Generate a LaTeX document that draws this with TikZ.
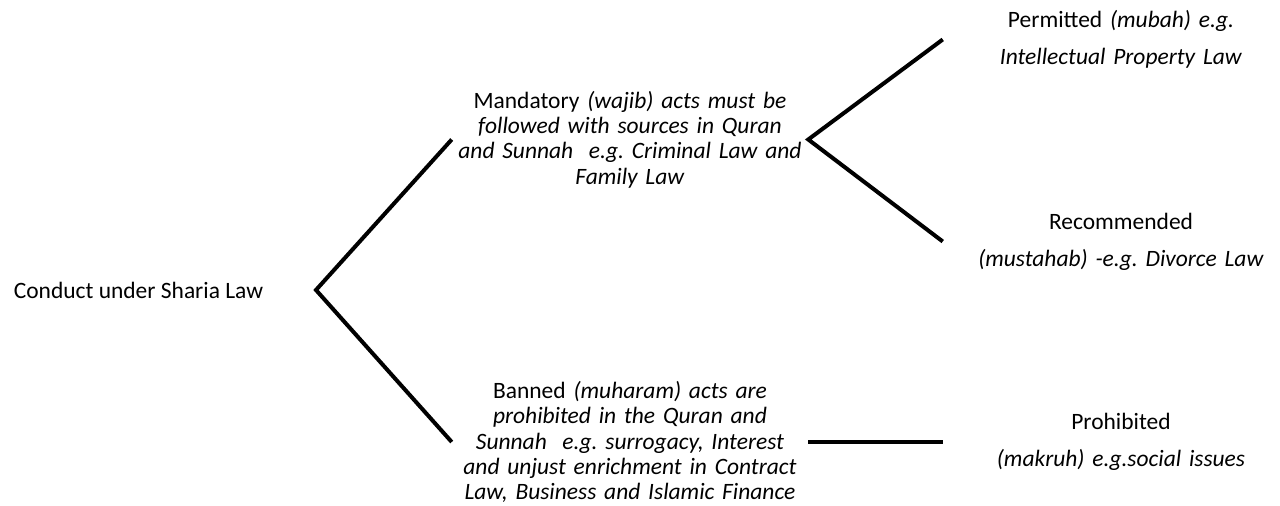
\documentclass[tikz,border=0pt]{standalone}
\usepackage{fontspec}
\setmainfont{Carlito}
\frenchspacing
\tikzset{
  txt/.style={inner sep=0pt, text width=267pt, align=center},
  branch/.style={line width=3pt}
}

\begin{document}
\begin{tikzpicture}[x=0.75pt,y=-0.75pt,font=\fontsize{17.6}{19}\selectfont]
\useasboundingbox (0,0) rectangle (1280,506);

%Root of the tree
\node (conduct) at (138.5,290){Conduct under Sharia Law};
\coordinate (fork) at (316,290);

%First level
\node[txt] (mandatory) at (630,139.5){Mandatory \textit{(wajib) acts must be}\\
  \textit{followed with sources in Quran}\\
  \textit{and Sunnah~ e.g. Criminal Law and}\\
  \textit{Family Law}};
\node[txt] (banned) at (630,442){Banned \textit{(muharam) acts are}\\
  \textit{prohibited in the Quran and}\\
  \textit{Sunnah~ e.g. surrogacy, Interest}\\
  \textit{and unjust enrichment in Contract}\\
  \textit{Law, Business and Islamic Finance}};

%Second level
\node[txt] (permitted) at (1121,39.5){Permitted \textit{(mubah) e.g.}\\[8.75pt]
  \textit{Intellectual Property Law}};
\node[txt] (recommended) at (1121,241.5){Recommended\\[8.75pt]
  \textit{(mustahab) -e.g. Divorce Law}};
\node[txt] (prohibited) at (1121,442){Prohibited\\[8.75pt]
  \textit{(makruh) e.g.social issues}};

%Branches
\draw[branch] (mandatory.west) -- (fork) -- (banned.west);
\draw[branch] (permitted.west) -- (mandatory.east) -- (recommended.west);
\draw[branch] (banned.east) -- (prohibited.west);

\end{tikzpicture}
\end{document}
